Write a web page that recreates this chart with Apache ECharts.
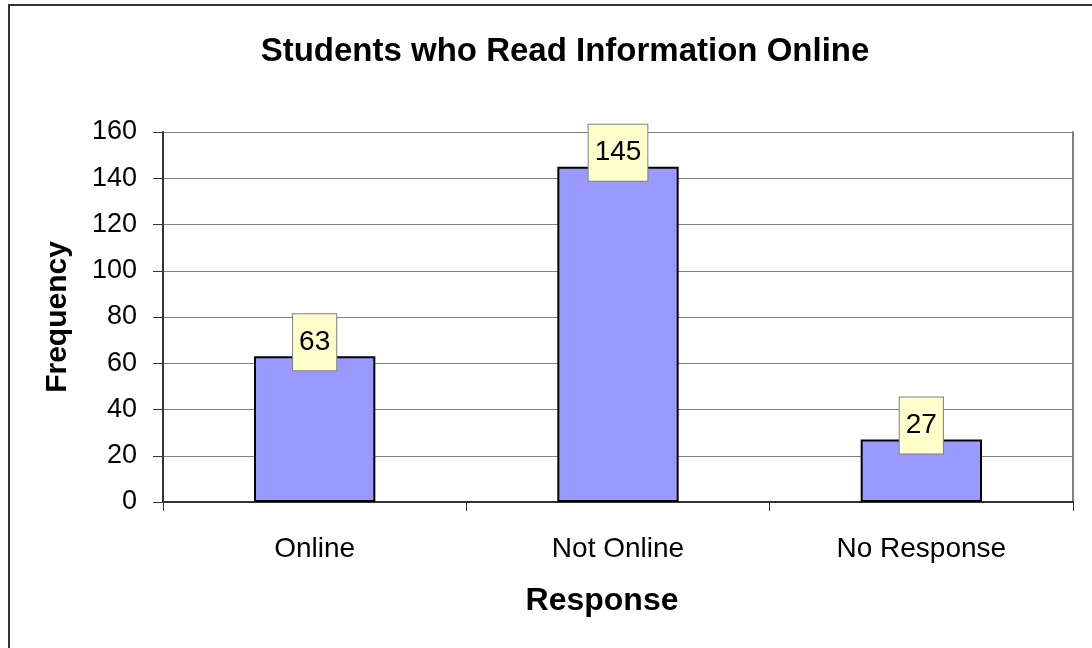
<!DOCTYPE html>
<html>
<head>
<meta charset="utf-8">
<script src="https://cdn.jsdelivr.net/npm/echarts@6/dist/echarts.min.js"></script>
<style>html,body{margin:0;padding:0;background:#fff;}#c{width:1092px;height:648px;}</style>
</head>
<body>
<div id="c"></div>
<script>
const categories = ['Online', 'Not Online', 'No Response'];
const frequency = [63, 145, 27];
const yTicks = [0, 20, 40, 60, 80, 100, 120, 140, 160];

const chart = echarts.init(document.getElementById('c'), null, {renderer: 'canvas'});
const FONT = '"Liberation Sans", Arial, sans-serif';
chart.setOption({
  animation: false,
  backgroundColor: '#fff',
  title: {
    text: 'Students who Read Information Online',
    left: 560, top: 30, textAlign: 'center',
    textStyle: {fontFamily: FONT, fontSize: 33, fontWeight: 'bold', color: '#000'}
  },
  graphic: [{
    type: 'rect', silent: true, z: -1,
    shape: {x: 9, y: 5, width: 1200, height: 800},
    style: {fill: null, stroke: '#333', lineWidth: 2}
  }],
  grid: {left: 163, top: 132, right: 19, bottom: 146, containLabel: false},
  xAxis: {
    type: 'category', data: categories, boundaryGap: true,
    name: 'Response', nameLocation: 'middle', nameGap: 83,
    nameTextStyle: {fontFamily: FONT, fontSize: 32, fontWeight: 'bold', color: '#000', padding: [0, 32, 0, 0]},
    axisLine: {lineStyle: {color: '#333', width: 2}},
    axisTick: {show: true, length: 9, lineStyle: {color: '#333', width: 1}},
    axisLabel: {fontFamily: FONT, fontSize: 28, color: '#000', margin: 33}
  },
  yAxis: [{
    type: 'value', min: yTicks[0], max: yTicks[yTicks.length - 1], interval: 20,
    name: 'Frequency', nameLocation: 'middle', nameGap: 90, nameRotate: 90,
    nameTextStyle: {fontFamily: FONT, fontSize: 30, fontWeight: 'bold', color: '#000'},
    axisLine: {show: true, lineStyle: {color: '#333', width: 2}},
    axisTick: {show: true, length: 10, lineStyle: {color: '#333', width: 1}},
    axisLabel: {fontFamily: FONT, fontSize: 27, color: '#000', margin: 26},
    splitLine: {show: true, lineStyle: {color: '#808080', width: 1}}
  }, {
    type: 'value', position: 'right', min: yTicks[0], max: yTicks[yTicks.length - 1], interval: 20,
    axisLine: {show: true, lineStyle: {color: '#808080', width: 2}},
    axisTick: {show: false}, axisLabel: {show: false}, splitLine: {show: false}
  }],
  series: [{
    type: 'bar', data: frequency, barWidth: '40%',
    itemStyle: {color: '#9999FF', borderColor: '#000', borderWidth: 2},
    label: {
      show: true, position: 'top', distance: -14,
      fontFamily: FONT, fontSize: 28, color: '#000', lineHeight: 28,
      backgroundColor: '#FFFFCC', borderColor: '#808080', borderWidth: 1,
      padding: [14, 6, 14, 6]
    }
  }]
});
</script>
</body>
</html>
